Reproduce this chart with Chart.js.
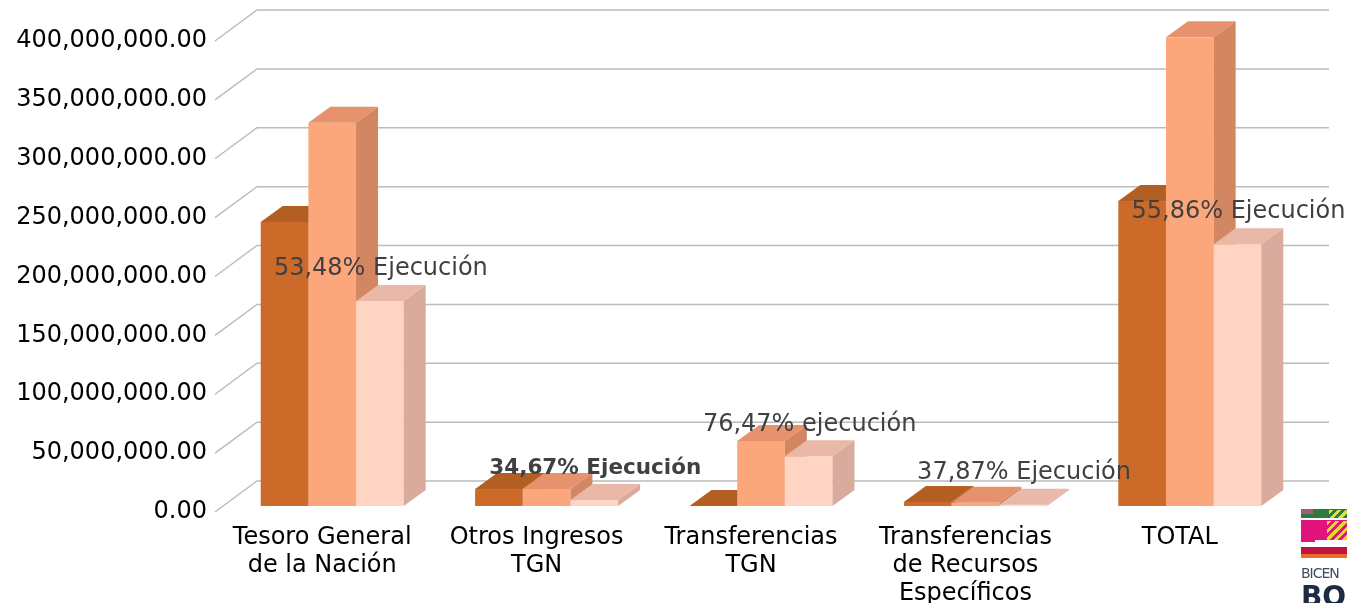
<!DOCTYPE html>
<html>
<head>
<meta charset="utf-8">
<script src="https://cdn.jsdelivr.net/npm/chart.js@4.4.1/dist/chart.umd.min.js"></script>
<style>
    html, body { margin: 0; padding: 0; background: #fff; }
    #wrap { position: relative; width: 1347px; height: 603px; overflow: hidden; }
    #logo { position: absolute; left: 1301px; top: 509px; width: 60px; height: 100px; font-family: "DejaVu Sans", sans-serif; }
    #logo .s { position: absolute; left: 0; }
</style>
</head>
<body>
<div id="wrap">
    <canvas id="chart" width="1347" height="603"></canvas>
    <div id="logo">
        <div class="s" style="top:0;width:12px;height:5px;background:#a8587a"></div>
        <div class="s" style="top:0;left:12px;width:48px;height:9px;background:#2c7a3c"></div>
        <div class="s" style="top:5px;width:12px;height:4px;background:#2c7a3c"></div>
        <div class="s" style="top:1px;left:28px;width:18px;height:8px;background:repeating-linear-gradient(135deg,#d8e03a 0 3px,#2c7a3c 3px 6px)"></div>
        <div class="s" style="top:11px;width:60px;height:22px;background:#e0147c"></div>
        <div class="s" style="top:12px;left:26px;width:20px;height:20px;background:repeating-linear-gradient(135deg,#e6d830 0 3px,#e0147c 3px 6px)"></div>
        <div class="s" style="top:31px;left:14px;width:46px;height:5px;background:#fff"></div>
        <div class="s" style="top:38px;width:60px;height:7px;background:#c0143c"></div>
        <div class="s" style="top:45px;width:60px;height:4px;background:#ee6a2c"></div>
        <div class="s" style="top:56px;font-size:14px;color:#3f4c5c;letter-spacing:-1px">BICEN</div>
        <div class="s" style="top:71px;font-size:28px;font-weight:bold;color:#1d2c44">BO</div>
    </div>
</div>
<script>
// Datos del gráfico (Bs.)
const categorias = [
    ["Tesoro General", "de la Nación"],
    ["Otros Ingresos", "TGN"],
    ["Transferencias", "TGN"],
    ["Transferencias", "de Recursos", "Específicos"],
    ["TOTAL"]
];
const presupuestoInicial = [241200000, 14400000, 0, 3400000, 259000000];
const presupuestoVigente = [325500000, 14400000, 55200000, 2700000, 398000000];
const ejecutado = [174100000, 5000000, 42200000, 1000000, 222300000];
const etiquetasEjecucion = ["53,48% Ejecución", "34,67% Ejecución", "76,47% ejecución", "37,87% Ejecución", "55,86% Ejecución"];
const etiquetaNegrita = [false, true, false, false, false];
const marcasEjeY = [0, 50000000, 100000000, 150000000, 200000000, 250000000, 300000000, 350000000, 400000000];

// Colores de las caras (frontal, superior, lateral)
const caras = [
    { front: '#cc6a2a', top: '#b35e22', side: '#a85a28' },
    { front: '#fca77b', top: '#e6926c', side: '#d38662' },
    { front: '#ffd4c2', top: '#eab8a6', side: '#d9ab9c' }
];

// Profundidad 3D
const DX = 22, DY = 16;       // profundidad de la barra
const BACK_DX = 32, BACK_DY = 25;  // pared del fondo
const FRONT_DX = -10, FRONT_DY = 6; // plano frontal (etiquetas)

const FONT = '"DejaVu Sans", Verdana, sans-serif';

const bar3d = {
    id: 'bar3d',
    beforeDatasetsDraw(chart) {
        const ctx = chart.ctx;
        const x = chart.scales.x, y = chart.scales.y;
        const area = chart.chartArea;

        // Líneas de la cuadrícula (pared del fondo + diagonal izquierda)
        ctx.save();
        ctx.strokeStyle = '#bcbcbc';
        ctx.lineWidth = 1.5;
        marcasEjeY.forEach(v => {
            const py = y.getPixelForValue(v);
            ctx.beginPath();
            ctx.moveTo(area.left + FRONT_DX, py + FRONT_DY);
            ctx.lineTo(area.left + BACK_DX, py - BACK_DY);
            ctx.lineTo(area.right + BACK_DX, py - BACK_DY);
            ctx.stroke();
        });

        // Etiquetas del eje Y
        ctx.fillStyle = '#000';
        ctx.font = '24px ' + FONT;
        ctx.textAlign = 'right';
        ctx.textBaseline = 'middle';
        marcasEjeY.forEach(v => {
            const py = y.getPixelForValue(v);
            const txt = v.toLocaleString('en-US', { minimumFractionDigits: 2, maximumFractionDigits: 2 });
            ctx.fillText(txt, 207, py + FRONT_DY);
        });

        // Etiquetas de categorías
        ctx.textAlign = 'center';
        ctx.textBaseline = 'alphabetic';
        categorias.forEach((lines, i) => {
            const px = x.getPixelForValue(i) + FRONT_DX;
            lines.forEach((l, j) => ctx.fillText(l, px, 544 + j * 28));
        });

        // Barras 3D, por categoría y serie
        const metas = chart.data.datasets.map((d, i) => chart.getDatasetMeta(i));
        for (let i = 0; i < categorias.length; i++) {
            metas.forEach((meta, s) => {
                const el = meta.data[i];
                const l = el.x - el.width / 2, r = el.x + el.width / 2;
                const t = el.y, b = el.base;
                const c = caras[s];
                ctx.fillStyle = c.front;
                ctx.fillRect(l, t, r - l, b - t);
                ctx.fillStyle = c.top;
                ctx.beginPath();
                ctx.moveTo(l, t); ctx.lineTo(l + DX, t - DY); ctx.lineTo(r + DX, t - DY); ctx.lineTo(r, t);
                ctx.closePath(); ctx.fill();
                ctx.fillStyle = c.side;
                ctx.beginPath();
                ctx.moveTo(r, t); ctx.lineTo(r + DX, t - DY); ctx.lineTo(r + DX, b - DY); ctx.lineTo(r, b);
                ctx.closePath(); ctx.fill();
            });
        }

        // Porcentaje de ejecución sobre la barra ejecutada
        const metaEj = metas[2];
        ctx.fillStyle = '#404040';
        ctx.textBaseline = 'middle';
        etiquetasEjecucion.forEach((txt, i) => {
            const el = metaEj.data[i];
            ctx.font = etiquetaNegrita[i] ? 'bold 21.5px ' + FONT : '24px ' + FONT;
            ctx.fillText(txt, el.x + 1, el.y - 32);
        });
        ctx.restore();
        return false;
    }
};

new Chart(document.getElementById('chart'), {
    type: 'bar',
    data: {
        labels: categorias,
        datasets: [
            { label: 'Presupuesto Inicial', data: presupuestoInicial, backgroundColor: caras[0].front },
            { label: 'Presupuesto Vigente', data: presupuestoVigente, backgroundColor: caras[1].front },
            { label: 'Ejecutado', data: ejecutado, backgroundColor: caras[2].front }
        ]
    },
    options: {
        responsive: false,
        animation: false,
        layout: { padding: { left: 225, right: 50, top: 35, bottom: 97 } },
        datasets: { bar: { categoryPercentage: 0.667, barPercentage: 1.0 } },
        scales: {
            x: { display: false },
            y: { display: false, min: 0, max: 400000000 }
        },
        plugins: { legend: { display: false }, tooltip: { enabled: false } }
    },
    plugins: [bar3d]
});
</script>
</body>
</html>
